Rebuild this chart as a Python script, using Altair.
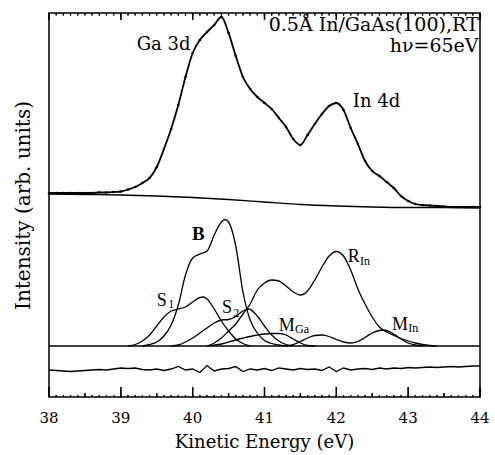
import altair as alt
import pandas as pd

FONT = "DejaVu Serif"
FONT2 = "Liberation Serif"

# ---- measured spectrum (kinetic energy grid, eV) ----
ENERGY = [38.0, 38.1, 38.2, 38.3, 38.4, 38.5, 38.6, 38.7, 38.8, 38.9,
          39.0, 39.1, 39.2, 39.3, 39.4, 39.5, 39.6, 39.7, 39.8, 39.9,
          40.0, 40.1, 40.2, 40.3, 40.4, 40.5, 40.6, 40.7, 40.8, 40.9,
          41.0, 41.1, 41.2, 41.3, 41.4, 41.5, 41.6, 41.7, 41.8, 41.9,
          42.0, 42.1, 42.2, 42.3, 42.4, 42.5, 42.6, 42.7, 42.8, 42.9,
          43.0, 43.1, 43.2, 43.3, 43.4, 43.5, 43.6, 43.7, 43.8, 43.9, 44.0]
SPECTRUM = [204, 204, 204, 204, 204, 204, 204, 204.5, 204.5, 205,
            205.5, 207.5, 210, 214, 219, 230, 248, 268, 292, 320,
            344, 357, 365, 372, 380, 364, 341, 320, 308, 300,
            294, 288, 279, 270, 258, 252, 262, 273, 283, 291,
            294, 287, 269, 253, 236, 226, 221, 215, 209, 201,
            196, 193, 192, 191.5, 191, 190.5, 190, 190, 190, 190, 190]
RESIDUAL = [27, 26.5, 26, 25.5, 26, 26.5, 27, 27.5, 27, 28,
            29, 28.5, 29, 27.5, 27, 28, 26.5, 28, 30.5, 27,
            28, 24.5, 31.5, 26, 28, 28.5, 30.5, 25.5, 28, 27,
            28.5, 26.5, 29, 28, 27, 28.5, 27.5, 28, 26.5, 30,
            25.5, 29, 27, 28, 28.5, 27.5, 29, 28, 29, 28.5,
            29.5, 29, 29.5, 30, 29.5, 30, 30.5, 30, 30.5, 31, 31]

# ---- background under the spectrum ----
BG_ENERGY = [38.0, 38.5, 39.0, 39.5, 40.0, 40.5, 41.0, 41.5, 42.0, 42.5, 43.0, 43.5, 44.0]
BACKGROUND = [203, 202.5, 202, 201, 199.5, 197.5, 195, 192.5, 191, 190, 189.5, 189.5, 189]

# ---- fitted components (lower panel) ----
COMPONENT_BASELINE = 51
B_E = [39.3, 39.4, 39.5, 39.6, 39.7, 39.8, 39.9, 40.0, 40.1, 40.2, 40.3, 40.4, 40.45,
       40.5, 40.6, 40.7, 40.8, 40.9, 41.0, 41.1, 41.2, 41.3]
B_I = [51, 52.5, 55, 61, 72, 92, 122, 139, 143, 146, 162, 175, 177.5,
       175, 151, 105, 77, 64, 56.5, 53.5, 52, 51]
S1_E = [39.1, 39.2, 39.3, 39.4, 39.5, 39.6, 39.7, 39.8, 39.9, 40.0, 40.1, 40.15,
        40.2, 40.3, 40.4, 40.5, 40.6, 40.7, 40.8]
S1_I = [51, 52.5, 56, 62, 71, 80, 86, 88, 90, 95, 99.5, 100,
        98, 88, 76, 66, 58, 53.5, 51]
S2_E = [39.7, 39.8, 39.9, 40.0, 40.1, 40.2, 40.3, 40.4, 40.5, 40.6, 40.7, 40.78,
        40.9, 41.0, 41.1, 41.2, 41.3, 41.4]
S2_I = [51, 52, 55, 59, 64, 69, 74, 77, 77.5, 80.5, 86, 88,
        81, 71, 62, 56, 52.5, 51]
RIN_E = [40.2, 40.3, 40.4, 40.5, 40.6, 40.7, 40.8, 40.9, 41.0, 41.1, 41.2, 41.3,
         41.4, 41.5, 41.6, 41.7, 41.8, 41.9, 42.0, 42.1, 42.2, 42.3, 42.4, 42.5,
         42.6, 42.7, 42.8, 42.9, 43.0, 43.1, 43.2, 43.3, 43.4]
RIN_I = [51, 54, 59, 66, 73, 83, 93, 107, 114, 117, 116, 111,
         105, 102, 106, 117, 130, 141, 145.5, 141, 127, 108, 93, 80,
         70, 65, 61.5, 58.5, 56, 54, 52.5, 51.5, 51]
MGA_E = [40.2, 40.4, 40.6, 40.8, 41.0, 41.1, 41.2, 41.3, 41.4, 41.5, 41.6, 41.7]
MGA_I = [51, 53, 57, 60.5, 63, 63.5, 63.5, 62, 58, 54, 51.5, 51]
MIN_E = [41.3, 41.4, 41.5, 41.6, 41.7, 41.8, 41.9, 42.0, 42.1, 42.2, 42.3, 42.4,
         42.5, 42.6, 42.65, 42.7, 42.8, 42.9, 43.0, 43.1, 43.2]
MIN_I = [51, 52.5, 55.5, 59, 61.5, 62, 60.5, 57.5, 55, 54, 55.5, 59.5,
         64, 66.5, 67, 66.5, 63, 58, 54, 52, 51]

# ---- axis tick values and labels ----
MAJOR_TICKS = [38, 39, 40, 41, 42, 43, 44]
TICK_LABELS = ["38", "39", "40", "41", "42", "43", "44"]
HALF_TICKS = [38.5, 39.5, 40.5, 41.5, 42.5, 43.5]
MINOR_TICKS = ENERGY
X_TITLE = ["Kinetic Energy (eV)"]

# ---- text annotations ----
LEFT_TEXT = ["Ga 3d", "In 4d"]
LEFT_E = [39.22, 42.23]
LEFT_I = [347, 290]
RIGHT_TEXT = ["0.5Å In/GaAs(100),RT", "hν=65eV"]
RIGHT_E = [43.98, 43.98]
RIGHT_I = [366, 345]
COMP_TEXT = ["S", "S", "R", "M", "M"]
COMP_E = [39.50, 40.41, 42.16, 41.20, 42.775]
COMP_I = [91, 84, 135, 66, 67]
SUB_TEXT = ["1", "2", "In", "Ga", "In"]
SUB_E = [39.66, 40.565, 42.33, 41.425, 43.0]
SUB_I = [89, 80, 132, 64, 65]
BOLD_TEXT = ["B"]
BOLD_E = [40.08]
BOLD_I = [157]

H = 384
W = 431

spec_df = pd.DataFrame({"E": ENERGY, "I": SPECTRUM})
res_df = pd.DataFrame({"E": ENERGY, "I": RESIDUAL})
bg_df = pd.DataFrame({"E": BG_ENERGY, "I": BACKGROUND})
comp_df = pd.concat([
    pd.DataFrame({"E": e, "I": v, "comp": n})
    for n, e, v in [("B", B_E, B_I), ("S1", S1_E, S1_I), ("S2", S2_E, S2_I),
                    ("RIn", RIN_E, RIN_I), ("MGa", MGA_E, MGA_I), ("MIn", MIN_E, MIN_I)]
])

tick_rows = []
for group, values, lo, hi in [("bmaj", MAJOR_TICKS, 0, 10), ("bhalf", HALF_TICKS, 0, 4),
                              ("bmin", MINOR_TICKS, 0, 2), ("tmaj", MAJOR_TICKS, H - 7, H),
                              ("tmin", MINOR_TICKS, H - 2.5, H)]:
    for i, v in enumerate(values):
        key = f"{group}{i}"
        tick_rows.append({"E": float(v), "I": float(lo), "k": key})
        tick_rows.append({"E": float(v), "I": float(hi), "k": key})
tick_df = pd.DataFrame(tick_rows)
major_df = pd.DataFrame({"E": [float(v) for v in MAJOR_TICKS]})
half_df = pd.DataFrame({"E": HALF_TICKS})
minor_df = pd.DataFrame({"E": MINOR_TICKS})
label_df = pd.DataFrame({"E": [float(v) for v in MAJOR_TICKS], "t": TICK_LABELS})
xtitle_df = pd.DataFrame({"t": X_TITLE})

left_df = pd.DataFrame({"t": LEFT_TEXT, "E": LEFT_E, "I": LEFT_I})
right_df = pd.DataFrame({"t": RIGHT_TEXT, "E": RIGHT_E, "I": RIGHT_I})
ctext_df = pd.DataFrame({"t": COMP_TEXT, "E": COMP_E, "I": COMP_I})
sub_df = pd.DataFrame({"t": SUB_TEXT, "E": SUB_E, "I": SUB_I})
bold_df = pd.DataFrame({"t": BOLD_TEXT, "E": BOLD_E, "I": BOLD_I})
base_df = pd.DataFrame({"I": [COMPONENT_BASELINE]})

xs = alt.Scale(domain=[38, 44], nice=False, zero=False)
ys = alt.Scale(domain=[0, H], nice=False, zero=False)

Y_AXIS = alt.Axis(title="Intensity (arb. units)", labels=False, ticks=False, domain=False,
                  grid=False, titleFont=FONT, titleFontSize=20, titleFontWeight="normal",
                  titleColor="black", titlePadding=16)

X = alt.X("E:Q", scale=xs, axis=None)
Y = alt.Y("I:Q", scale=ys, axis=Y_AXIS)


def rule_ticks(df, y_from, y_to, width):
    return alt.Chart(df).mark_rule(color="black", strokeWidth=width).encode(
        x=X, y=alt.value(y_from), y2=alt.value(y_to))


rule_layers = [
    rule_ticks(major_df, H - 10, H, 1.3),
    rule_ticks(half_df, H - 4, H, 1.1),
    rule_ticks(minor_df, H - 2, H, 1.0),
    rule_ticks(major_df, 0, 7, 1.3),
    rule_ticks(minor_df, 0, 2.5, 1.0),
]

bg = alt.Chart(bg_df).mark_line(color="black", strokeWidth=1.3, interpolate="monotone").encode(
    x=X, y=Y)
fit = alt.Chart(spec_df).mark_line(color="black", strokeWidth=1.8, interpolate="monotone").encode(
    x=X, y=Y)
dots = alt.Chart(spec_df).mark_circle(color="black", size=7, opacity=1).encode(x=X, y=Y)
comps = alt.Chart(comp_df).mark_line(color="black", strokeWidth=1.3, interpolate="monotone").encode(
    x=X, y=Y, detail="comp:N")
resid = alt.Chart(res_df).mark_line(color="black", strokeWidth=1.3).encode(x=X, y=Y)
baseline = alt.Chart(base_df).mark_rule(color="black", strokeWidth=1.6).encode(y=Y)
t_left = alt.Chart(left_df).mark_text(align="left", baseline="alphabetic", font=FONT,
                                      fontSize=18, color="black").encode(x=X, y=Y, text="t:N")
t_right = alt.Chart(right_df).mark_text(align="right", baseline="alphabetic", font=FONT,
                                        fontSize=19, color="black").encode(x=X, y=Y, text="t:N")
t_comp = alt.Chart(ctext_df).mark_text(align="left", baseline="alphabetic", font=FONT2,
                                       fontSize=18, color="black").encode(x=X, y=Y, text="t:N")
t_sub = alt.Chart(sub_df).mark_text(align="left", baseline="alphabetic", font=FONT2,
                                    fontSize=12, color="black").encode(x=X, y=Y, text="t:N")
t_bold = alt.Chart(bold_df).mark_text(align="center", baseline="alphabetic", font=FONT2,
                                      fontSize=19, fontWeight="bold", color="black").encode(
    x=X, y=Y, text="t:N")
line_ticks = alt.Chart(tick_df).mark_line(color="black", strokeWidth=1.3).encode(
    x=X, y=Y, detail="k:N")
# x tick labels and x title placed below the plot through the x scale
t_labels = alt.Chart(label_df).mark_text(align="center", baseline="top", font=FONT,
                                         fontSize=15, color="black").encode(
    x=X, y=alt.value(H + 14), text="t:N")
t_xtitle = alt.Chart(xtitle_df).mark_text(align="center", baseline="top", font=FONT,
                                          fontSize=18, color="black").encode(
    x=alt.value(W / 2), y=alt.value(H + 37), text="t:N")

chart = alt.layer(*rule_layers, bg, fit, dots, comps, resid, baseline,
                  t_left, t_right, t_comp, t_sub, t_bold, line_ticks,
                  t_labels, t_xtitle).properties(
    width=W, height=H,
    padding={"left": 49, "top": 13, "right": 15, "bottom": 58},
    autosize=alt.AutoSizeParams(type="none"),
).configure_view(stroke="black", strokeWidth=1.5)

chart.save("out.html", embed_options={"renderer": "svg", "actions": False})
